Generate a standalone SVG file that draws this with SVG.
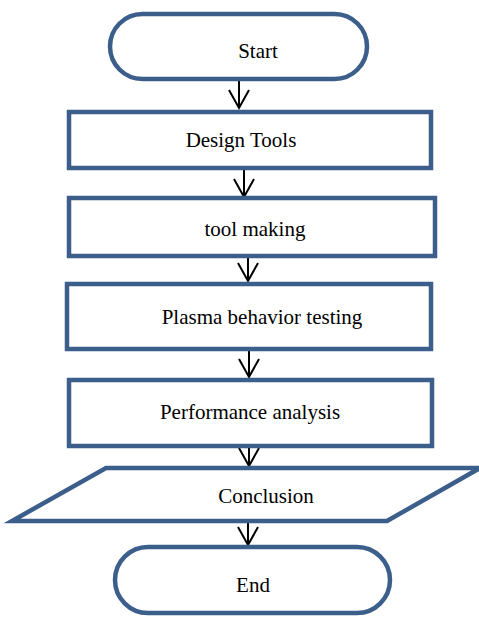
<svg xmlns="http://www.w3.org/2000/svg" width="479" height="617" viewBox="0 0 479 617">
<style>
.shape{fill:#fff;stroke:#3b5e8b;stroke-width:4.5;stroke-linejoin:miter}
.lbl{font-family:"Liberation Serif","Times New Roman",serif;font-size:21px;fill:#000;text-anchor:middle}
.conn{stroke:#000;stroke-width:2;fill:none}
</style>
<defs>
<marker id="ah" markerUnits="userSpaceOnUse" markerWidth="24" markerHeight="24" viewBox="-20 -12 24 24" refX="0" refY="0" orient="auto">
<path d="M-18,-10 L0,0 L-18,10" fill="none" stroke="#000" stroke-width="2"/>
</marker>
</defs>
<rect width="479" height="617" fill="#fff"/>
<g id="connectors">
<path class="conn" d="M239,81 V108" marker-end="url(#ah)"/>
<path class="conn" d="M244,170 V197" marker-end="url(#ah)"/>
<path class="conn" d="M248,258 V281" marker-end="url(#ah)"/>
<path class="conn" d="M249,351 V377" marker-end="url(#ah)"/>
<path class="conn" d="M249,448 V466" marker-end="url(#ah)"/>
<path class="conn" d="M248,518 V545" marker-end="url(#ah)"/>
</g>
<g id="start">
<rect class="shape" x="110" y="14" width="257" height="65" rx="32.5"/>
<text class="lbl" x="258" y="58">Start</text>
</g>
<g id="design-tools">
<rect class="shape" x="69" y="112" width="362" height="56"/>
<text class="lbl" x="241" y="147">Design Tools</text>
</g>
<g id="tool-making">
<rect class="shape" x="69" y="198" width="366" height="58"/>
<text class="lbl" x="255" y="236">tool making</text>
</g>
<g id="plasma-testing">
<rect class="shape" x="67" y="284" width="364" height="65"/>
<text class="lbl" x="262" y="324">Plasma behavior testing</text>
</g>
<g id="performance-analysis">
<rect class="shape" x="69" y="380" width="363" height="66"/>
<text class="lbl" x="250" y="419">Performance analysis</text>
</g>
<g id="conclusion">
<polygon class="shape" points="106,468 480,468 387,521 12,521"/>
<text class="lbl" x="266" y="503">Conclusion</text>
</g>
<g id="end">
<rect class="shape" x="115" y="547" width="275" height="66" rx="33"/>
<text class="lbl" x="253" y="592">End</text>
</g>
</svg>
